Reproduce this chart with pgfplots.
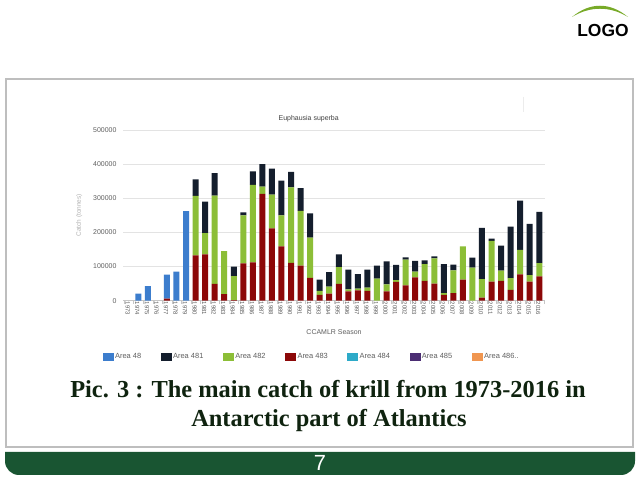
\documentclass[border=0pt]{standalone}
\usepackage{pgfplots}
\pgfplotsset{compat=1.18}
\usepackage{pgfplotstable}
\usepackage{fontspec}
\setmainfont{Liberation Sans}
\newfontfamily\capfont{Liberation Serif}
\definecolor{a48}{RGB}{60,125,205}
\definecolor{a481}{RGB}{20,30,45}
\definecolor{a482}{RGB}{140,190,55}
\definecolor{a483}{RGB}{140,8,8}
\definecolor{a484}{RGB}{45,170,200}
\definecolor{a485}{RGB}{75,45,115}
\definecolor{a486}{RGB}{240,150,80}
\definecolor{framegray}{RGB}{190,190,190}
\definecolor{logogreen}{RGB}{120,170,40}
\definecolor{footgreen}{RGB}{25,85,50}
\definecolor{captext}{RGB}{15,35,15}
\definecolor{labgray}{RGB}{95,95,95}
\pgfplotstableread{
year a48 a483 a482 a481
1973 0 0 0 0
1974 21000 0 0 0
1975 43000 0 0 0
1976 0 0 0 0
1977 70000 6000 0 0
1978 85000 0 0 0
1979 262000 0 0 0
1980 0 133000 174000 48000
1981 0 136000 62000 92000
1982 0 49000 259000 66000
1983 0 19000 126000 0
1984 0 2000 70000 28000
1985 0 109000 141000 9000
1986 0 112000 227000 40000
1987 0 313000 21000 66000
1988 0 212000 99000 76000
1989 0 159000 91000 102000
1990 0 111000 221000 45000
1991 0 103000 160000 67000
1992 0 67000 118000 71000
1993 0 17000 12000 33000
1994 0 21000 20000 43000
1995 0 49000 49000 38000
1996 0 27000 6000 58000
1997 0 30000 5000 43000
1998 0 29000 9000 53000
1999 0 0 65000 38000
2000 0 27000 21000 67000
2001 0 55000 5000 45000
2002 0 45000 75000 7000
2003 0 68000 17000 32000
2004 0 58000 49000 11000
2005 0 50000 74000 6000
2006 0 17000 5000 85000
2007 0 22000 67000 17000
2008 0 62000 97000 0
2009 0 0 97000 29000
2010 0 9000 54000 150000
2011 0 56000 119000 7000
2012 0 58000 30000 73000
2013 0 32000 34000 151000
2014 0 77000 72000 144000
2015 0 56000 19000 150000
2016 0 71000 39000 150000
}\krill
\begin{document}
\begin{tikzpicture}[x=1bp,y=1bp]
\path[use as bounding box, fill=white] (0,0) rectangle (640,480);
% slide frame
\draw[line width=2bp, draw=framegray] (6,401) rectangle (633,33);
\draw[gray!15, line width=0.8bp] (523,383) -- (523,368);
% logo
\fill[logogreen] (572,463) .. controls (590,478) and (610,478) .. (628,463)
  .. controls (610,474) and (590,474) .. cycle;
\node[anchor=base, inner sep=0, font=\fontsize{17.5}{19}\selectfont\bfseries] at (603,443) {LOGO};
% footer
\fill[footgreen] (5,28) -- (5,19) arc[start angle=180,end angle=270,radius=14] -- (621,5)
  arc[start angle=270,end angle=360,radius=14] -- (635,28) -- cycle;
\node[anchor=base, inner sep=0, text=white, font=\fontsize{22}{24}\selectfont] at (320,9) {7};
% caption
\node[anchor=base, inner sep=0, text=captext, font=\capfont\bfseries\fontsize{24.5}{30}\selectfont] at (328,82) {Pic. 3 : The main catch of krill from 1973-2016 in};
\node[anchor=base, inner sep=0, text=captext, font=\capfont\bfseries\fontsize{24.5}{30}\selectfont] at (329,53) {Antarctic part of Atlantics};
\begin{axis}[
  at={(123bp,179.3bp)}, anchor=south west, scale only axis,
  width=422bp, height=170.7bp,
  ybar stacked, bar width=6bp,
  xmin=1972.4, xmax=2016.6, ymin=0, ymax=500000,
  ytick={0,100000,200000,300000,400000,500000}, scaled y ticks=false,
  /pgf/number format/fixed,
  /pgf/number format/1000 sep={},
  /pgf/number format/assume math mode=true,
  xtick={1973,...,2016},
  minor xtick={1972.5,1973.5,...,2016.5},
  axis lines*=left, axis line style={-},
  y axis line style={draw=none}, x axis line style={draw=gray!45},
  ymajorgrids, grid style={draw=gray!22, line width=0.7bp},
  major tick length=0pt, minor tick length=3bp, tick align=outside,
  minor tick style={gray!45},
  tick label style={font=\fontsize{7}{8}\selectfont, text=labgray},
  xticklabel style={rotate=-90, anchor=west, font=\fontsize{6}{7}\selectfont, inner sep=1bp, yshift=-1bp},
  yticklabel style={xshift=-3bp},
  title={Euphausia superba},
  title style={at={(0.44,1)}, anchor=center, yshift=5bp, font=\fontsize{7}{8}\selectfont, text=black!75},
  xlabel={CCAMLR Season},
  xlabel style={at={(axis description cs:0.5,-0.183)}, anchor=center, font=\fontsize{7}{8}\selectfont, text=labgray},
  ylabel={Catch (tonnes)},
  ylabel style={at={(axis description cs:-0.104,0.5)}, anchor=center, font=\fontsize{6.5}{8}\selectfont, text=gray!60},
  legend style={at={(0.447,-0.33)}, anchor=center, draw=none, fill=none,
    legend columns=7, font=\fontsize{7.5}{9}\selectfont, text=labgray,
    /tikz/every even column/.append style={column sep=17.5bp}},
  legend cell align=left,
]
\addlegendimage{legend image code/.code={\fill[a48] (0bp,-3.5bp) rectangle (10bp,3.5bp);}}
\addlegendentry{Area 48}
\addlegendimage{legend image code/.code={\fill[a481] (0bp,-3.5bp) rectangle (10bp,3.5bp);}}
\addlegendentry{Area 481}
\addlegendimage{legend image code/.code={\fill[a482] (0bp,-3.5bp) rectangle (10bp,3.5bp);}}
\addlegendentry{Area 482}
\addlegendimage{legend image code/.code={\fill[a483] (0bp,-3.5bp) rectangle (10bp,3.5bp);}}
\addlegendentry{Area 483}
\addlegendimage{legend image code/.code={\fill[a484] (0bp,-3.5bp) rectangle (10bp,3.5bp);}}
\addlegendentry{Area 484}
\addlegendimage{legend image code/.code={\fill[a485] (0bp,-3.5bp) rectangle (10bp,3.5bp);}}
\addlegendentry{Area 485}
\addlegendimage{legend image code/.code={\fill[a486] (0bp,-3.5bp) rectangle (10bp,3.5bp);}}
\addlegendentry{Area 486..}
\addplot[fill=a483, draw=none, forget plot] table[x=year, y=a483] {\krill};
\addplot[fill=a48, draw=none, forget plot] table[x=year, y=a48] {\krill};
\addplot[fill=a482, draw=none, forget plot] table[x=year, y=a482] {\krill};
\addplot[fill=a481, draw=none, forget plot] table[x=year, y=a481] {\krill};
\end{axis}
\end{tikzpicture}
\end{document}
